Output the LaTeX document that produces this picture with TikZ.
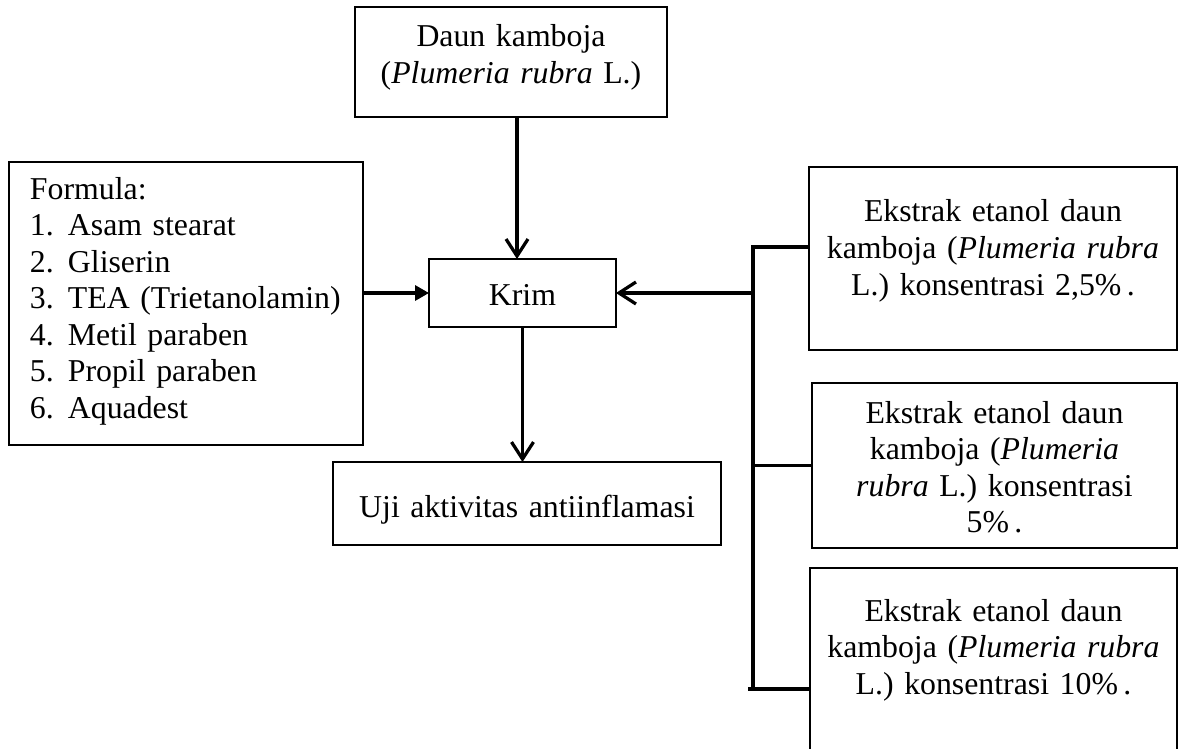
\documentclass[tikz,border=0pt]{standalone}
\usepackage{fontspec}
\setmainfont{Liberation Serif}
\usetikzlibrary{arrows.meta,calc,positioning}

\begin{document}
\begin{tikzpicture}[x=0.02cm,y=-0.02cm,font=\fontsize{18.1}{20.8}\selectfont,
  box/.style={draw,line width=0.045cm,inner sep=0pt,outer sep=0pt,align=center},
  link/.style={line width=0.065cm},
  arr/.style={link,-{Straight Barb[length=0.34cm,width=0.44cm]}},
  arrfill/.style={link,-{Triangle[length=0.28cm,width=0.3cm]}}]
  \useasboundingbox (0,0) rectangle (1180,748);
  \clip (0,0) rectangle (1180,748);

  % Main column
  \node[box,anchor=north,text width=6.24cm,text height=0.8cm,text depth=1.4cm] (daun) at (511,7)
    {Daun kamboja\\(\textit{Plumeria rubra} L.)};
  \node[box,anchor=north,text width=3.74cm,text height=0.92cm,text depth=0.44cm] (krim) at (522.5,259) {Krim};
  \node[box,anchor=north,text width=7.76cm,text height=1.1cm,text depth=0.56cm] (uji) at (527,462) {Uji aktivitas antiinflamasi};

  % Formula
  \node[box,anchor=north west,align=left,text width=6.24cm,inner xsep=0.42cm,text height=0.74cm,text depth=4.92cm] (formula) at (9,162)
    {\mbox{Formula:}\\
     \mbox{\makebox[0.76cm][l]{1.}Asam stearat}\\
     \mbox{\makebox[0.76cm][l]{2.}Gliserin}\\
     \mbox{\makebox[0.76cm][l]{3.}TEA (Trietanolamin)}\\
     \mbox{\makebox[0.76cm][l]{4.}Metil paraben}\\
     \mbox{\makebox[0.76cm][l]{5.}Propil paraben}\\
     \mbox{\makebox[0.76cm][l]{6.}Aquadest}};

  % Extract concentrations
  \node[box,anchor=north west,text width=7.36cm,text height=1.1cm,text depth=2.56cm] (ekstrakA) at (809,167)
    {Ekstrak etanol daun\\kamboja (\textit{Plumeria rubra}\\L.) konsentrasi 2,5\%\,.};
  \node[box,anchor=north west,text width=7.3cm,text height=0.8cm,text depth=2.5cm] (ekstrakB) at (812,383)
    {Ekstrak etanol daun\\kamboja (\textit{Plumeria}\\\textit{rubra} L.) konsentrasi\\5\%\,.};
  \node[box,anchor=north west,text width=7.34cm,text height=1.06cm,text depth=4cm] (ekstrakC) at (810,568)
    {Ekstrak etanol daun\\kamboja (\textit{Plumeria rubra}\\L.) konsentrasi 10\%\,.};

  % Connectors
  \draw[arr] ([xshift=0.12cm]daun.south) -- ([xshift=0.12cm]daun.south |- krim.north);
  \draw[arrfill] (formula.east |- krim.west) -- (krim.west);
  \draw[arr] (krim.south) -- (krim.south |- uji.north);

  \coordinate (busA) at (753,247);
  \coordinate (busC) at (753,689);
  \draw[link] (busA -| ekstrakA.west) -- (busA) -- (busC);
  \draw[link] (ekstrakB.west -| busA) -- (ekstrakB.west);
  \draw[link] ([xshift=-0.1cm]busC) -- (busC -| ekstrakC.west);
  \draw[arr] (krim.east -| busA) -- (krim.east);
\end{tikzpicture}
\end{document}
